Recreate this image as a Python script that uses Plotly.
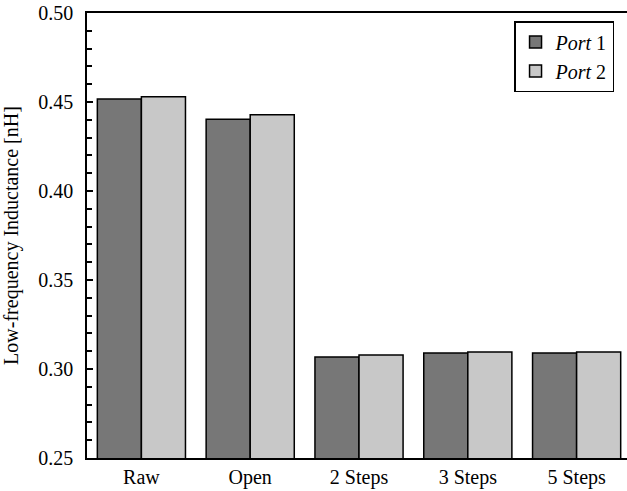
import plotly.graph_objects as go

categories = ["Raw", "Open", "2 Steps", "3 Steps", "5 Steps"]
port1 = [0.4517, 0.4403, 0.3067, 0.3090, 0.3090]
port2 = [0.4530, 0.4428, 0.3079, 0.3096, 0.3096]
series_names = ["<i>Port</i> 1", "<i>Port</i> 2"]
y_ticks = [0.25, 0.30, 0.35, 0.40, 0.45, 0.50]

FONT = "Liberation Serif"

fig = go.Figure()
fig.add_trace(go.Bar(x=categories, y=port1, name=series_names[0],
                     marker=dict(color="#777777", line=dict(color="black", width=1.5))))
fig.add_trace(go.Bar(x=categories, y=port2, name=series_names[1],
                     marker=dict(color="#c8c8c8", line=dict(color="black", width=1.5))))

fig.update_layout(
    width=627, height=491,
    margin=dict(l=87, r=0, t=13, b=33),
    paper_bgcolor="white", plot_bgcolor="white",
    font=dict(family=FONT, size=20, color="black"),
    barmode="group", bargap=0.19, bargroupgap=0,
    showlegend=True,
    legend=dict(x=0.976, y=0.982, xanchor="right", yanchor="top",
                bordercolor="black", borderwidth=1.5, bgcolor="white",
                font=dict(family=FONT, size=20), tracegroupgap=0,
                itemwidth=30),
)
fig.update_xaxes(
    range=[-0.5, 4.463], showline=True, linecolor="black", linewidth=1.5,
    mirror=True, ticks="", showgrid=False, tickfont=dict(size=20),
)
fig.update_yaxes(
    range=[0.25, 0.50], tickvals=y_ticks, ticktext=[f"{v:.2f}" for v in y_ticks],
    showline=True, linecolor="black", linewidth=1.5, showgrid=False,
    ticks="inside", ticklen=6, tickwidth=1.5, tickcolor="black",
    ticklabelstandoff=8,
    minor=dict(dtick=0.01, ticks="inside", ticklen=5, tickwidth=1.5, tickcolor="black"),
    title=dict(text="Low-frequency Inductance [nH]", font=dict(size=20), standoff=14),
    tickfont=dict(size=20), zeroline=False,
)

fig.write_html("out.html")
